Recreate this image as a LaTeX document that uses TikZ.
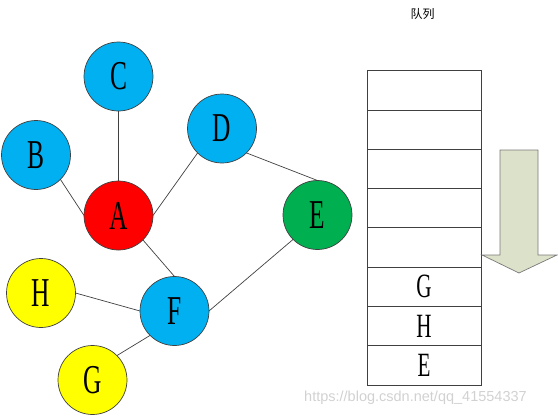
\documentclass[tikz,border=0pt]{standalone}
\usepackage{fontspec}
\usepackage{graphicx}
\setmainfont{Liberation Serif}
\newfontfamily\cjk{Noto Sans CJK SC}
\newfontfamily\wmfont{Liberation Sans}
\definecolor{nblue}{HTML}{00B0F0}
\definecolor{nred}{HTML}{FF0000}
\definecolor{ngreen}{HTML}{00B050}
\definecolor{nyellow}{HTML}{FFFF00}
\definecolor{arrowfill}{HTML}{DCE1CA}
\definecolor{linegray}{HTML}{404040}
\newcommand\bigletter[1]{\scalebox{0.62}[1]{\fontsize{41}{41}\selectfont #1}}
\newcommand\qletter[1]{\scalebox{0.62}[1]{\fontsize{34}{34}\selectfont #1}}
\tikzset{
  vtx/.style={circle, draw=linegray, line width=0.7pt, minimum size=69pt, inner sep=0pt, outer sep=0pt},
  edge/.style={draw=linegray, line width=0.7pt},
  cell/.style={rectangle, draw=linegray, line width=0.9pt, minimum width=114pt, minimum height=39.3pt, inner sep=0pt, outer sep=0pt},
}
\begin{document}
\begin{tikzpicture}[x=1pt,y=-1pt]
\useasboundingbox (0,0) rectangle (558,418);
% edges first (behind vertices)
\node[vtx, fill=nblue] (C) at (118.5,76.5) {\bigletter{C}};
\node[vtx, fill=nblue] (B) at (36,155) {\bigletter{B}};
\node[vtx, fill=nblue] (D) at (222,128.5) {\bigletter{D}};
\node[vtx, fill=nred] (A) at (118.5,215.5) {\bigletter{A}};
\node[vtx, fill=ngreen] (E) at (317.5,215) {\bigletter{E}};
\node[vtx, fill=nyellow] (H) at (41,293) {\bigletter{H}};
\node[vtx, fill=nblue] (F) at (174.5,311) {\bigletter{F}};
\node[vtx, fill=nyellow] (G) at (92.5,380) {\bigletter{G}};
% edges
\draw[edge] (B.south east) -- (A.west);
\draw[edge] (C.south) -- (A.north);
\draw[edge] (D.south west) -- (A.east);
\draw[edge] (A.south east) -- (F.north);
\draw[edge] (D.south east) -- (E.north);
\draw[edge] (E.south west) -- (F.east);
\draw[edge] (H.east) -- (F.west);
\draw[edge] (G.north east) -- (F.south west);
% queue title
\node (title) at (422.5,14) {\cjk\fontsize{12}{12}\selectfont 队列};
% queue cells
\foreach \i in {1,...,8} {
  \node[cell] (q\i) at (424,{70.7+39.3*(\i-0.5)}) {};
}
\node at (q6) {\qletter{G}};
\node at (q7) {\qletter{H}};
\node at (q8) {\qletter{E}};
% arrow
\draw[draw=linegray!70, line width=0.7pt, fill=arrowfill]
  (500,150) -- (538,150) -- (538,255) -- (557,255) -- (519,273) -- (482,255) -- (500,255) -- cycle;
% watermark
\node[text=black!18, anchor=west, inner sep=0pt] (wm) at (304,398) {\wmfont\fontsize{14.5}{14.5}\selectfont https://blog.csdn.net/qq\_41554337};
\end{tikzpicture}
\end{document}
